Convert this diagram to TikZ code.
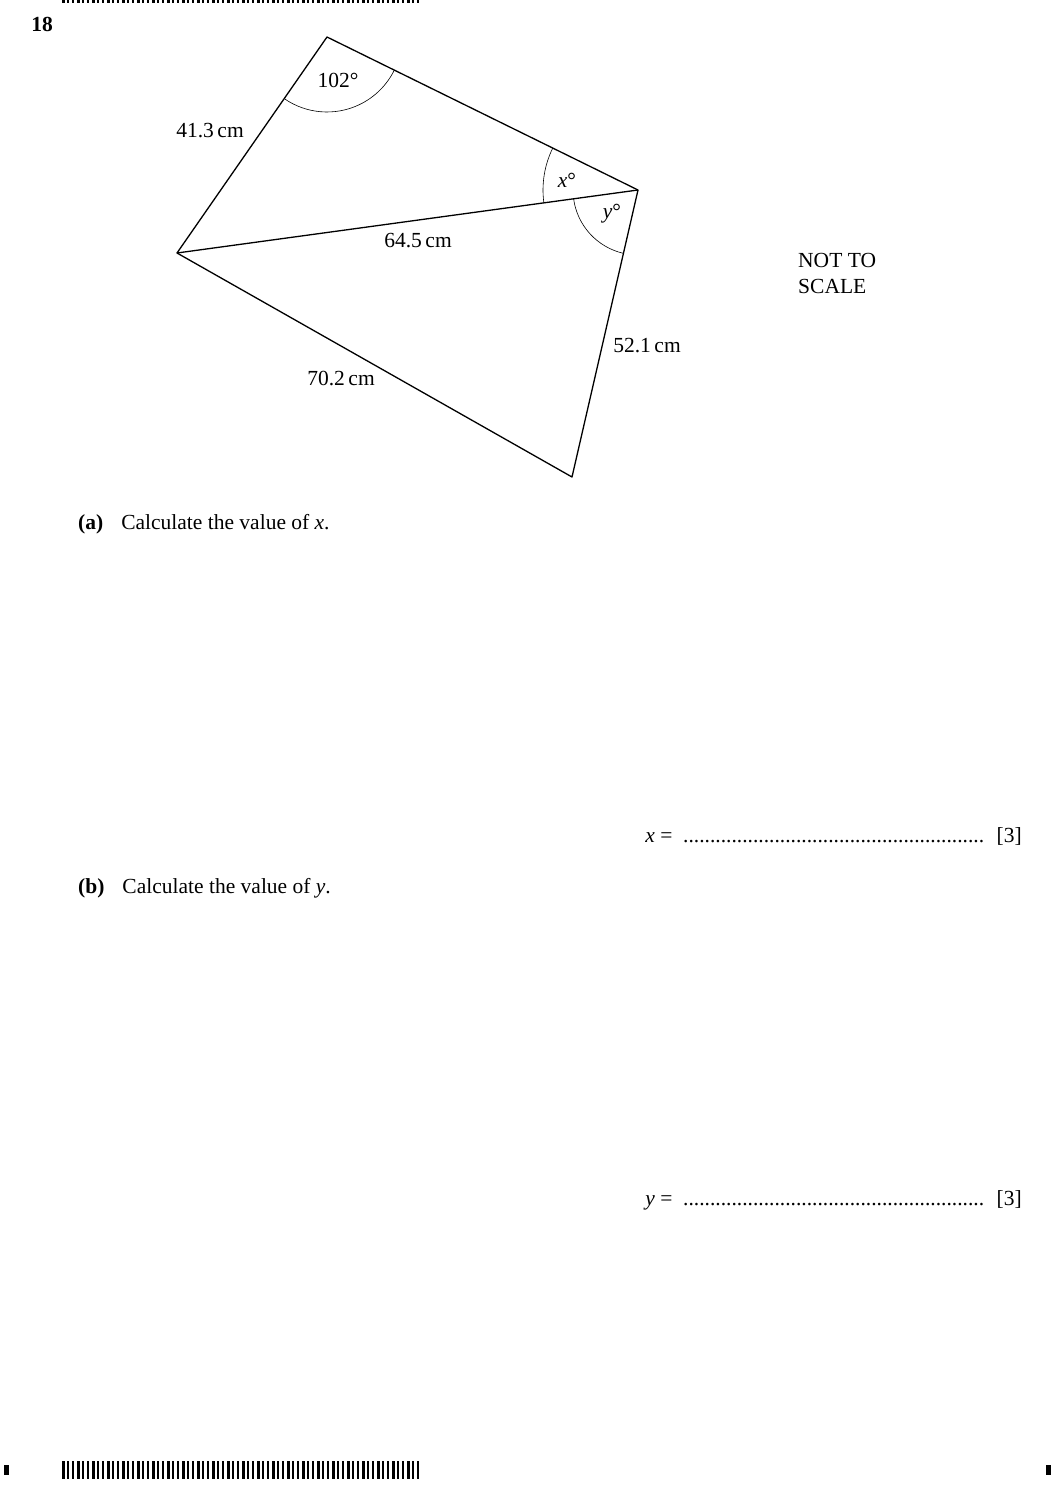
\documentclass[tikz,border=0pt]{standalone}
\usepackage{fontspec}
\setmainfont{Liberation Serif}
\usetikzlibrary{angles}
\tikzset{
  side/.style={line width=1.3pt},
  marc/.style={draw, line width=0.6pt},
  lbl/.style={font=\fontsize{21.5}{26}\selectfont, inner sep=0pt},
  bar/.style={fill=black, draw=none}
}
\begin{document}
\begin{tikzpicture}[x=1pt, y=-1pt]
		\useasboundingbox (0, 0) rectangle (1056, 1493);
		
		\coordinate (A) at (327, 37);
		\coordinate (B) at (177, 253);
		\coordinate (C) at (638, 190);
		\coordinate (D) at (572, 477);
		
		\draw [side, line join=round] (A) -- (C) -- (D) -- (B) -- cycle;
		\draw [side] (B) -- (C);
		
		\pic [marc, angle radius=75pt] {angle=B--A--C};
		\pic [marc, angle radius=95pt] {angle=A--C--B};
		\pic [marc, angle radius=65pt] {angle=B--C--D};
		
		\node [lbl, font=\bfseries\fontsize{21.5}{26}\selectfont] (num) at (42, 24) {18};
		\node [lbl] (aA) at (338, 80) {102°};
		\node [lbl] (lAB) at (210, 131) {41.3\,cm};
		\node [lbl] (aX) at (567, 180) {\textit{x}°};
		\node [lbl] (aY) at (612, 214) {\textit{y}°};
		\node [lbl] (lBC) at (418, 241) {64.5\,cm};
		\node [lbl, anchor=north west, align=left] (nts) at (798, 253) {NOT TO\\SCALE};
		\node [lbl] (lCD) at (647, 346) {52.1\,cm};
		\node [lbl] (lBD) at (341, 378) {70.2\,cm};
		
		\node [lbl, anchor=west] (qa) at (78, 524) {\textbf{(a)}\hspace{18pt}Calculate the value of \textit{x}.};
		\node [lbl, anchor=east] (ansa) at (1022, 836) {\textit{x} = \ ........................................................ \ [3]};
		\node [lbl, anchor=west] (qb) at (78, 888) {\textbf{(b)}\hspace{18pt}Calculate the value of \textit{y}.};
		\node [lbl, anchor=east] (ansb) at (1022, 1200) {\textit{y} = \ ........................................................ \ [3]};
		
		% barcodes
		\foreach \i in {0,...,71} {
			\pgfmathsetmacro{\w}{mod(\i*7,3) == 0 ? 3 : 1.5}
			\fill [bar] (62 + \i*5, 1461) rectangle ++(\w, 18);
			\fill [bar] (62 + \i*5, 0) rectangle ++(\w, 3);
		}
		\fill [bar] (4, 1465) rectangle (9, 1475);
		\fill [bar] (1046, 1465) rectangle (1051, 1475);
		
\end{tikzpicture}
\end{document}
